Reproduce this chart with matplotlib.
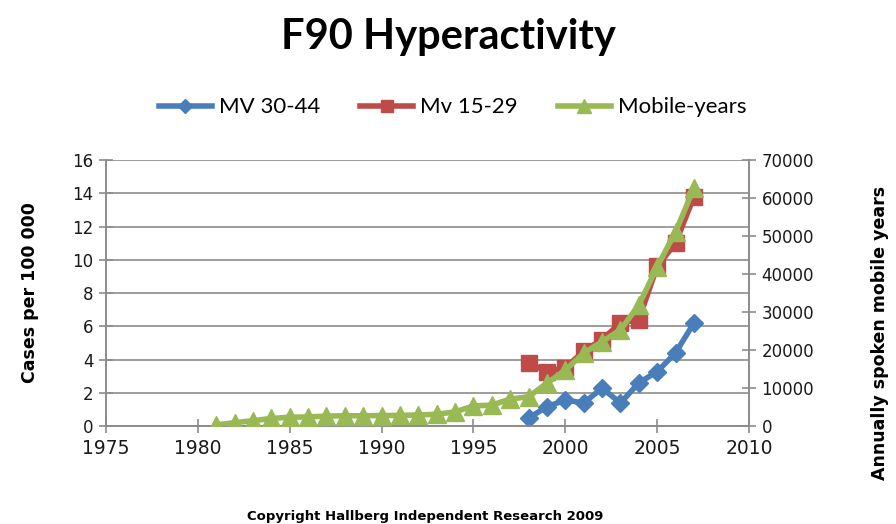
import numpy as np
import matplotlib.pyplot as plt

# data
years_mv = [1998, 1999, 2000, 2001, 2002, 2003, 2004, 2005, 2006, 2007]
mv_30_44 = [0.48, 1.16, 1.57, 1.38, 2.28, 1.38, 2.6, 3.27, 4.4, 6.2]
mv_15_29 = [3.8, 3.27, 3.5, 4.5, 5.2, 6.2, 6.4, 9.6, 11.0, 13.8]

years_mob = list(range(1981, 2008))
mobile_years = [300, 870, 1400, 2000, 2300, 2400, 2600, 2700, 2700, 2750, 2800,
                2900, 3100, 3700, 5300, 5500, 7100, 7700, 11300, 14700, 19200,
                22200, 25300, 31800, 41900, 51100, 62600]

blue = '#4A7EBB'
red = '#BE4B48'
green = '#98B954'
grey = '#8c8c8c'

fig = plt.figure(figsize=(8.96, 5.24), dpi=100)
ax = fig.add_axes([0.1183, 0.187, 0.7177, 0.5076])
ax2 = ax.twinx()

l1, = ax.plot(years_mv, mv_30_44, color=blue, lw=4, marker='D', ms=9,
              label='MV 30-44', zorder=3)
l2, = ax.plot(years_mv, mv_15_29, color=red, lw=4, marker='s', ms=12,
              label='Mv 15-29', zorder=2)
l3, = ax2.plot(years_mob, mobile_years, color=green, lw=4, marker='^', ms=13,
               label='Mobile-years', zorder=3)

ax.set_xlim(1975, 2010)
ax.set_ylim(0, 16)
ax.set_xticks(range(1975, 2011, 5))
ax.set_yticks(range(0, 17, 2))
ax2.set_ylim(0, 70000)
ax2.set_yticks(range(0, 70001, 10000))

ax.yaxis.grid(True, color=grey, lw=1.2)
ax.set_axisbelow(True)
for a in (ax, ax2):
    a.spines['top'].set_visible(False)
    for s in ('left', 'right', 'bottom'):
        a.spines[s].set_color(grey)
        a.spines[s].set_linewidth(1.2)
    a.tick_params(colors=grey, width=1.2, length=10, direction='inout',
                  labelsize=12, labelcolor='#1a1a1a')
ax.tick_params(axis='x', labelsize=13.5, pad=4)
ax.tick_params(axis='y', pad=4)
ax2.tick_params(axis='y', pad=4)

ax.set_ylabel('Cases per 100 000', fontsize=12.5, fontweight='bold', labelpad=24)
ax2.set_ylabel('Annually spoken mobile years', fontsize=12.5, fontweight='bold')
ax2.yaxis.set_label_coords(1.19, 0.35)

fig.text(0.5, 0.93, 'F90 Hyperactivity', ha='center', va='center',
         fontsize=30, fontweight='bold', family='Lato')
fig.legend(handles=[l1, l2, l3], loc='center', bbox_to_anchor=(0.505, 0.795),
           ncol=3, frameon=False, handlelength=2.4,
           columnspacing=1.8, handletextpad=0.3, markerscale=0.75,
           prop={'family': 'Lato', 'size': 16})
fig.text(0.474, 0.015, 'Copyright Hallberg Independent Research 2009', ha='center',
         va='center', fontsize=9.5, fontweight='bold')

fig.savefig('out.png', dpi=100)
